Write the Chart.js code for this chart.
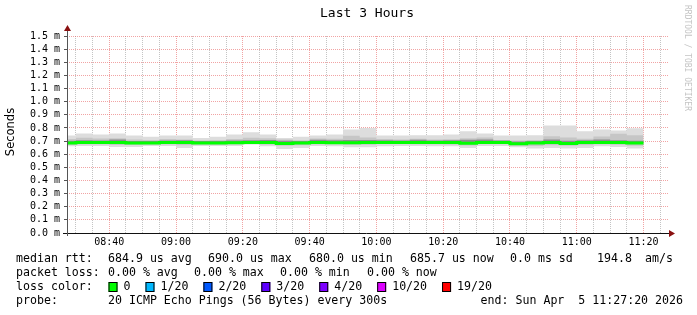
<!DOCTYPE html>
<html>
<head>
<meta charset="utf-8">
<title>Last 3 Hours</title>
<script src="https://cdn.jsdelivr.net/npm/chart.js@4.4.1/dist/chart.umd.min.js"></script>
<style>
    html, body { margin: 0; padding: 0; background: #fff; }
    canvas { display: block; }
</style>
</head>
<body>
<canvas id="smokeChart" width="697" height="315"></canvas>
<script>
// 5 minute steps, each time is the start of a step, the last one closes the final step
const stepTimes = [
    '08:25', '08:30', '08:35', '08:40', '08:45', '08:50', '08:55', '09:00', '09:05', '09:10',
    '09:15', '09:20', '09:25', '09:30', '09:35', '09:40', '09:45', '09:50', '09:55', '10:00',
    '10:05', '10:10', '10:15', '10:20', '10:25', '10:30', '10:35', '10:40', '10:45', '10:50',
    '10:55', '11:00', '11:05', '11:10', '11:15', '11:20'
];

// values in ms (axis is seconds with "m" prefix)
const medianRtt = [
    0.685, 0.690, 0.690, 0.690, 0.685, 0.685, 0.690, 0.690, 0.685, 0.685,
    0.688, 0.690, 0.690, 0.682, 0.685, 0.690, 0.688, 0.688, 0.690, 0.690,
    0.690, 0.690, 0.690, 0.690, 0.684, 0.690, 0.690, 0.680, 0.685, 0.690,
    0.681, 0.690, 0.690, 0.690, 0.6857
];
const smokeMax = [
    0.742, 0.757, 0.750, 0.757, 0.742, 0.732, 0.742, 0.742, 0.724, 0.732,
    0.750, 0.767, 0.750, 0.724, 0.732, 0.742, 0.750, 0.788, 0.800, 0.742,
    0.742, 0.745, 0.745, 0.750, 0.775, 0.757, 0.742, 0.742, 0.745, 0.819,
    0.819, 0.775, 0.788, 0.780, 0.797
];
const smokeMin = [
    0.660, 0.663, 0.663, 0.655, 0.655, 0.663, 0.663, 0.648, 0.663, 0.663,
    0.663, 0.673, 0.660, 0.640, 0.648, 0.663, 0.660, 0.653, 0.653, 0.660,
    0.663, 0.663, 0.660, 0.660, 0.648, 0.663, 0.663, 0.653, 0.643, 0.648,
    0.643, 0.648, 0.660, 0.655, 0.643
];
const midHi = [
    0.715, 0.725, 0.720, 0.722, 0.712, 0.708, 0.715, 0.712, 0.705, 0.708,
    0.715, 0.725, 0.722, 0.712, 0.706, 0.720, 0.718, 0.740, 0.728, 0.715,
    0.712, 0.718, 0.712, 0.714, 0.722, 0.728, 0.708, 0.705, 0.708, 0.737,
    0.728, 0.718, 0.735, 0.755, 0.745
];
const midLo = [
    0.672, 0.675, 0.676, 0.670, 0.672, 0.675, 0.676, 0.668, 0.675, 0.674,
    0.676, 0.680, 0.674, 0.664, 0.668, 0.676, 0.677, 0.672, 0.672, 0.677,
    0.677, 0.676, 0.676, 0.674, 0.666, 0.677, 0.677, 0.665, 0.662, 0.668,
    0.664, 0.668, 0.676, 0.672, 0.664
];
const darkHi = [
    0.702, 0.706, 0.705, 0.712, 0.700, 0.700, 0.705, 0.706, 0.700, 0.701,
    0.705, 0.706, 0.708, 0.703, 0.700, 0.710, 0.706, 0.708, 0.708, 0.706,
    0.705, 0.710, 0.705, 0.707, 0.710, 0.712, 0.705, 0.697, 0.700, 0.712,
    0.703, 0.706, 0.712, 0.706, 0.702
];

const xTickLabels = ['08:40', '09:00', '09:20', '09:40', '10:00', '10:20', '10:40', '11:00', '11:20'];
const lossLabels = ['0', '1/20', '2/20', '3/20', '4/20', '10/20', '19/20'];
const lossColors = ['#00ff00', '#00b8ff', '#0059ff', '#5e00ff', '#7e00ff', '#dd00ff', '#ff0000'];
const rttStats = ['684.9 us avg', '690.0 us max', '680.0 us min', '685.7 us now', '0.0 ms sd', '194.8', 'am/s'];
const lossStats = ['0.00 % avg', '0.00 % max', '0.00 % min', '0.00 % now'];

const rangeStart = '08:27:20';
const rangeEnd = '11:27:20';

function toMin(t) {
    const p = t.split(':').map(Number);
    return p[0] * 60 + p[1] + (p[2] || 0) / 60;
}

function steps(values) {
    return stepTimes.map((t, i) => ({ x: toMin(t), y: values[Math.min(i, values.length - 1)] }));
}

const majorMins = xTickLabels.map(toMin);
const gridMins = [];
for (let m = 510; m < toMin(rangeEnd); m += 5) gridMins.push(m);

const MONO = 'DejaVu Sans Mono';
const RED_GRID = 'rgba(230, 90, 90, 0.55)';
const GREY_GRID = '#c4c4c4';

const smokeLine = { pointRadius: 0, borderWidth: 0, borderColor: 'transparent', stepped: 'before' };

const decorations = {
    id: 'decorations',
    afterDraw(chart) {
        const ctx = chart.ctx;
        const area = chart.chartArea;
        ctx.save();

        // axes + arrows
        ctx.lineWidth = 1;
        ctx.strokeStyle = '#111';
        ctx.beginPath();
        ctx.moveTo(area.left - 4, area.bottom + 0.5);
        ctx.lineTo(area.right + 2, area.bottom + 0.5);
        ctx.stroke();
        ctx.strokeStyle = '#555';
        ctx.beginPath();
        ctx.moveTo(area.left + 0.5, area.bottom + 3);
        ctx.lineTo(area.left + 0.5, area.top - 6);
        ctx.stroke();
        ctx.fillStyle = '#8a1010';
        ctx.beginPath();
        ctx.moveTo(area.right + 1, area.bottom - 3);
        ctx.lineTo(area.right + 1, area.bottom + 4);
        ctx.lineTo(area.right + 7, area.bottom + 0.5);
        ctx.closePath();
        ctx.fill();
        ctx.beginPath();
        ctx.moveTo(area.left - 3, area.top - 5);
        ctx.lineTo(area.left + 4, area.top - 5);
        ctx.lineTo(area.left + 0.5, area.top - 11);
        ctx.closePath();
        ctx.fill();

        // title
        ctx.fillStyle = '#000';
        ctx.font = '13px ' + MONO;
        ctx.textAlign = 'center';
        ctx.textBaseline = 'middle';
        ctx.fillText('Last 3 Hours', 367, 14);

        // y axis title
        ctx.save();
        ctx.translate(11, 132);
        ctx.rotate(-Math.PI / 2);
        ctx.font = '11.5px "DejaVu Sans"';
        ctx.fillText('Seconds', 0, 0);
        ctx.restore();

        // watermark
        ctx.save();
        ctx.translate(687, 5);
        ctx.rotate(Math.PI / 2);
        ctx.textAlign = 'left';
        ctx.fillStyle = '#c4c4c4';
        ctx.font = '8px ' + MONO;
        ctx.fillText('RRDTOOL / TOBI OETIKER', 0, 0);
        ctx.restore();

        // legend
        ctx.font = '11.6px ' + MONO;
        ctx.textAlign = 'left';
        ctx.fillStyle = '#000';
        ctx.fillText('median rtt:', 16, 259);
        [108, 208, 309, 410, 510, 597, 645].forEach((px, i) => ctx.fillText(rttStats[i], px, 259));
        ctx.fillText('packet loss:', 16, 273);
        [108, 194, 280, 367].forEach((px, i) => ctx.fillText(lossStats[i], px, 273));
        ctx.fillText('loss color:', 16, 287);
        let x = 108.5;
        lossLabels.forEach((lbl, i) => {
            ctx.fillStyle = lossColors[i];
            ctx.fillRect(x, 282, 9, 10);
            ctx.strokeStyle = '#000';
            ctx.strokeRect(x + 0.5, 282.5, 8, 9);
            ctx.fillStyle = '#000';
            ctx.fillText(lbl, x + 15, 287);
            x += 15 + ctx.measureText(lbl).width + 15;
        });
        ctx.fillText('probe:', 16, 301);
        ctx.fillText('20 ICMP Echo Pings (56 Bytes) every 300s', 108, 301);
        ctx.textAlign = 'right';
        ctx.fillText('end: Sun Apr  5 11:27:20 2026', 683, 301);

        ctx.restore();
    }
};

new Chart(document.getElementById('smokeChart'), {
    type: 'line',
    data: {
        datasets: [
            { label: 'median', data: steps(medianRtt), borderColor: '#00ff00', borderWidth: 3, pointRadius: 0, stepped: 'before', fill: false },
            { ...smokeLine, label: 'dark', data: steps(darkHi), backgroundColor: '#8e8e8e', fill: 0 },
            { ...smokeLine, label: 'mid', data: steps(midHi), backgroundColor: '#c6c6c6', fill: 5 },
            { ...smokeLine, label: 'smoke', data: steps(smokeMax), backgroundColor: '#dddddd', fill: 4 },
            { ...smokeLine, label: 'min', data: steps(smokeMin), fill: false },
            { ...smokeLine, label: 'midLo', data: steps(midLo), fill: false }
        ]
    },
    options: {
        responsive: false,
        animation: false,
        devicePixelRatio: 1,
        layout: { padding: { left: 0, top: 36, right: 29, bottom: 64 } },
        plugins: { legend: { display: false }, tooltip: { enabled: false } },
        scales: {
            x: {
                type: 'linear',
                min: toMin(rangeStart),
                max: toMin(rangeEnd),
                afterBuildTicks: s => { s.ticks = gridMins.map(v => ({ value: v })); },
                afterFit: s => { s.height = 18; },
                ticks: {
                    autoSkip: false,
                    maxRotation: 0,
                    padding: 3,
                    color: '#000',
                    font: { family: MONO, size: 10 },
                    callback: v => {
                        const i = majorMins.indexOf(v);
                        return i >= 0 ? xTickLabels[i] : '';
                    }
                },
                grid: {
                    color: c => (c.tick && majorMins.includes(c.tick.value)) ? RED_GRID : GREY_GRID,
                    drawTicks: false
                },
                border: { display: false, dash: [1, 1] }
            },
            y: {
                min: 0,
                max: 1.5,
                afterFit: s => { s.width = 67; },
                ticks: {
                    stepSize: 0.1,
                    autoSkip: false,
                    padding: 4,
                    color: '#000',
                    font: { family: MONO, size: 10 },
                    callback: v => v.toFixed(1) + ' m'
                },
                grid: { color: RED_GRID, tickLength: 3, tickColor: '#555' },
                border: { display: false, dash: [1, 1] }
            }
        }
    },
    plugins: [decorations]
});
</script>
</body>
</html>
